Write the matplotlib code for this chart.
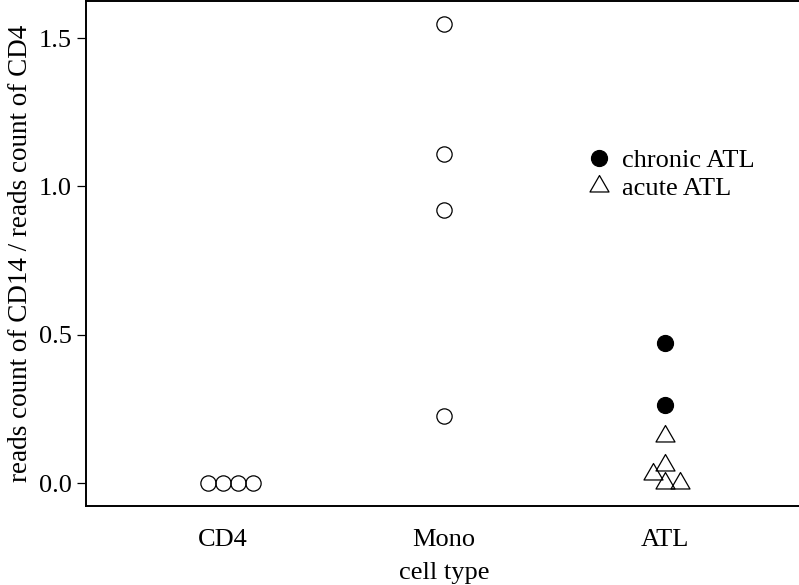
import numpy as np
import matplotlib
matplotlib.use("Agg")
import matplotlib.pyplot as plt
from matplotlib.path import Path
from matplotlib.lines import Line2D

# ---- data ----
categories = ["CD4", "Mono", "ATL"]
cd4_values = [0.0, 0.0, 0.0, 0.0]
mono_values = [1.547, 1.109, 0.920, 0.226]
atl_chronic = [0.472, 0.263]
atl_acute = [0.159, 0.060, 0.029, 0.0, 0.0]
yticks = [0.0, 0.5, 1.0, 1.5]
ytick_labels = ["0.0", "0.5", "1.0", "1.5"]
legend_labels = ["chronic ATL", "acute ATL"]
xlabel = "cell type"
ylabel = "reads count of CD14 / reads count of CD4"

plt.rcParams['font.family'] = ['Liberation Serif', 'DejaVu Serif']

W, H, DPI = 799, 585, 100
fig = plt.figure(figsize=(W / DPI, H / DPI), dpi=DPI)
ax = fig.add_axes([86 / W, (H - 506) / H, (802 - 86) / W, (506 - 1) / H])
ax.set_xlim(0.38, 3.62)
ax.set_ylim(-0.0775, 1.625)

FS = 19
# R-style triangle (pch 2), centered on centroid
tri = Path([(0, 1), (-0.8660254, -0.5), (0.8660254, -0.5), (0, 1)],
           [Path.MOVETO, Path.LINETO, Path.LINETO, Path.CLOSEPOLY])

circ_ms = 11.0
fill_ms = 11.5
tri_ms = 15.8
mew = 0.9
spacing_px = 15.0


def swarm(center, values):
    """Simple beeswarm 'swarm' placement in pixel space; returns x in data units."""
    fig.canvas.draw()
    trans = ax.transData
    order = np.argsort(values, kind="stable")
    placed = []  # (xpix_offset, ypix)
    cx_pix = trans.transform((center, 0))[0]
    out = np.zeros(len(values))
    for i in order:
        ypix = trans.transform((center, values[i]))[1]
        cands = [0.0]
        for (px, py) in placed:
            dy = abs(ypix - py)
            if dy < spacing_px:
                dx = np.sqrt(spacing_px ** 2 - dy ** 2)
                cands += [px + dx, px - dx]
        cands = sorted(set(np.round(cands, 6)), key=lambda c: (abs(c), -c))
        for c in cands:
            ok = all(np.hypot(c - px, ypix - py) >= spacing_px - 1e-6 for (px, py) in placed)
            if ok:
                placed.append((c, ypix))
                xd = trans.inverted().transform((cx_pix + c, ypix))[0]
                out[i] = xd
                break
    return out


# CD4
x_cd4 = swarm(1, cd4_values)
ax.plot(x_cd4, cd4_values, ls="none", marker="o", ms=circ_ms, mfc="none", mec="black", mew=mew)
# Mono
x_mono = swarm(2, mono_values)
ax.plot(x_mono, mono_values, ls="none", marker="o", ms=circ_ms, mfc="none", mec="black", mew=mew)
# ATL (chronic + acute in one swarm)
atl_all = list(atl_chronic) + list(atl_acute)
x_atl = swarm(3, atl_all)
n_c = len(atl_chronic)
ax.plot(x_atl[:n_c], atl_chronic, ls="none", marker="o", ms=fill_ms, mfc="black", mec="black", mew=mew)
ax.plot(x_atl[n_c:], atl_acute, ls="none", marker=tri, ms=tri_ms, mfc="none", mec="black", mew=mew)

# axes styling
ax.set_xticks([1, 2, 3])
ax.set_xticklabels(categories, fontsize=FS)
ax.tick_params(axis="x", length=0, pad=16.5)
ax.set_yticks(yticks)
ax.set_yticklabels(ytick_labels, fontsize=FS)
ax.tick_params(axis="y", length=6.5, width=0.9, pad=4)
for s in ax.spines.values():
    s.set_linewidth(1.4)

ax.set_xlabel(xlabel, fontsize=FS)
ax.xaxis.set_label_coords(0.5, -0.110)
ax.set_ylabel(ylabel, fontsize=19.5)
ax.yaxis.label.set_va("center")
ax.yaxis.set_label_coords(-0.091, 0.5)

handles = [
    Line2D([], [], ls="none", marker="o", ms=fill_ms, mfc="black", mec="black", mew=mew),
    Line2D([], [], ls="none", marker=tri, ms=tri_ms, mfc="none", mec="black", mew=mew),
]
ax.legend(handles, legend_labels, loc="upper left", bbox_to_anchor=(0.698, 0.707),
          frameon=False, fontsize=FS, handlelength=1.0, handletextpad=0.37,
          labelspacing=0.16, borderpad=0, borderaxespad=0, numpoints=1)

fig.savefig("out.png", dpi=DPI)
